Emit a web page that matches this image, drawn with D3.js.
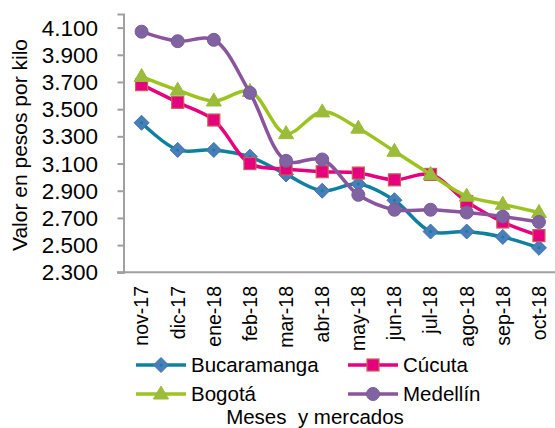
<!DOCTYPE html>
<html>
<head>
<meta charset="utf-8">
<script src="https://cdn.jsdelivr.net/npm/d3@7"></script>
<style>
    body { margin: 0; background: #fff; }
    text { font-family: "Liberation Sans", Arial, sans-serif; fill: #000; }
</style>
</head>
<body>
<script>
//months on the x axis
var months = ["nov-17", "dic-17", "ene-18", "feb-18", "mar-18", "abr-18",
              "may-18", "jun-18", "jul-18", "ago-18", "sep-18", "oct-18"];

//y axis ticks
var yTicks = [2300, 2500, 2700, 2900, 3100, 3300, 3500, 3700, 3900, 4100];

//price per market (pesos por kilo)
var bucaramanga = [3400, 3200, 3200, 3150, 3020, 2900, 2950, 2830, 2600, 2600, 2560, 2480];
var cucuta      = [3680, 3550, 3420, 3100, 3060, 3040, 3030, 2980, 3020, 2820, 2670, 2570];
var bogota      = [3740, 3640, 3560, 3630, 3320, 3480, 3360, 3190, 3020, 2860, 2800, 2740];
var medellin    = [4070, 4000, 4010, 3620, 3120, 3130, 2870, 2760, 2760, 2740, 2710, 2670];

var seriesNames = ["Bucaramanga", "Cúcuta", "Bogotá", "Medellín"];

window.onload = function () {

    var w = 555, h = 428;

    //series styles
    var styles = [
        { values: bucaramanga, line: "#10809f", fill: "#4a7ebb", stroke: "#3f73b0", shape: "diamond" },
        { values: cucuta,      line: "#e6007e", fill: "#e6007e", stroke: "#c8605a", shape: "square" },
        { values: bogota,      line: "#9cc31f", fill: "#9bbb3b", stroke: "#9bbb3b", shape: "triangle" },
        { values: medellin,    line: "#8a559c", fill: "#8064a2", stroke: "#7a5a9c", shape: "circle" }
    ];

    var svg = d3.select("body")
        .append("svg")
        .attr("width", w)
        .attr("height", h);

    //scales
    var x = d3.scaleBand()
        .domain(months)
        .range([123.5, 557]);

    var y = d3.scaleLinear()
        .domain([2300, 4200])
        .range([272.3, 14]);

    var fmt = function(d) { return d3.format(",")(d).replace(",", "."); };

    //y axis line and ticks
    var yAxis = svg.append("g")
        .attr("transform", "translate(123.5,0)")
        .call(d3.axisLeft(y).tickValues(yTicks).tickSize(6).tickFormat(""));
    yAxis.select(".domain").attr("stroke", "#a0a0a0").attr("stroke-width", 2);
    yAxis.selectAll(".tick line").attr("stroke", "#a0a0a0").attr("stroke-width", 2);

    //y tick labels
    svg.selectAll(".ylab")
        .data(yTicks)
        .enter()
        .append("text")
        .attr("class", "ylab")
        .attr("x", 98)
        .attr("y", function(d) { return y(d); })
        .attr("dy", "0.36em")
        .attr("text-anchor", "end")
        .attr("font-size", "22.5px")
        .text(fmt);

    //x axis line
    var xAxis = svg.append("g")
        .attr("transform", "translate(0,272.3)")
        .call(d3.axisBottom(x).tickSize(0).tickSizeOuter(0).tickFormat(""));
    xAxis.select(".domain")
        .attr("d", "M117,0H557")
        .attr("stroke", "#a0a0a0").attr("stroke-width", 2);

    var cx = function(i) { return x(months[i]) + x.bandwidth() / 2; };

    //month labels
    svg.selectAll(".xlab")
        .data(months)
        .enter()
        .append("text")
        .attr("class", "xlab")
        .attr("transform", function(d, i) {
            return "translate(" + cx(i) + ",286) rotate(-90)";
        })
        .attr("text-anchor", "end")
        .attr("dy", "0.35em")
        .attr("font-size", "19.5px")
        .text(function(d) { return d; });

    //y title
    svg.append("text")
        .attr("transform", "translate(27,145) rotate(-90)")
        .attr("text-anchor", "middle")
        .attr("font-size", "21px")
        .text("Valor en pesos por kilo");

    var line = d3.line()
        .x(function(d, i) { return cx(i); })
        .y(function(d) { return y(d); })
        .curve(d3.curveCatmullRom.alpha(0.5));

    //marker drawing
    function drawMarker(g, shape, s, px, py) {
        if (shape === "circle") {
            g.append("circle").attr("cx", px).attr("cy", py).attr("r", 6.5)
                .attr("fill", s.fill).attr("stroke", s.stroke).attr("stroke-width", 1);
        } else if (shape === "square") {
            g.append("rect").attr("x", px - 6).attr("y", py - 6).attr("width", 12).attr("height", 12)
                .attr("fill", s.fill).attr("stroke", s.stroke).attr("stroke-width", 1.2);
        } else if (shape === "triangle") {
            g.append("path")
                .attr("d", "M" + px + "," + (py - 8) + "L" + (px + 7.5) + "," + (py + 5) + "L" + (px - 7.5) + "," + (py + 5) + "Z")
                .attr("fill", s.fill).attr("stroke", s.stroke);
        } else {
            g.append("path")
                .attr("d", "M" + px + "," + (py - 7.5) + "L" + (px + 7.5) + "," + py + "L" + px + "," + (py + 7.5) + "L" + (px - 7.5) + "," + py + "Z")
                .attr("fill", s.fill).attr("stroke", s.stroke);
            g.append("circle").attr("cx", px).attr("cy", py).attr("r", 1.5).attr("fill", s.line);
        }
    }

    //series
    styles.forEach(function(s) {
        var g = svg.append("g");
        g.append("path")
            .datum(s.values)
            .attr("d", line)
            .attr("fill", "none")
            .attr("stroke", s.line)
            .attr("stroke-width", 3.5);
        s.values.forEach(function(v, i) {
            drawMarker(g, s.shape, s, cx(i), y(v));
        });
    });

    //legend
    var legPos = [[136, 365], [348, 365], [136, 394], [348, 394]];
    styles.forEach(function(s, i) {
        var lx = legPos[i][0], ly = legPos[i][1];
        var g = svg.append("g");
        g.append("line")
            .attr("x1", lx).attr("x2", lx + 50)
            .attr("y1", ly).attr("y2", ly)
            .attr("stroke", s.line).attr("stroke-width", 3.5);
        drawMarker(g, s.shape, s, lx + 25, ly);
        g.append("text")
            .attr("x", lx + 55)
            .attr("y", ly + 7)
            .attr("font-size", "20.5px")
            .text(seriesNames[i]);
    });

    //x title
    svg.append("text")
        .attr("x", 315)
        .attr("y", 424)
        .attr("text-anchor", "middle")
        .attr("font-size", "20.5px")
        .style("white-space", "pre")
        .text("Meses  y mercados");
};
</script>
</body>
</html>
